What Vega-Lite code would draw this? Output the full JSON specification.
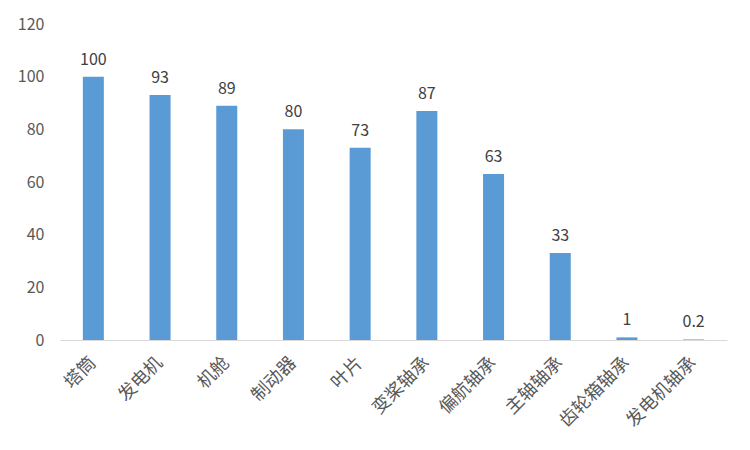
{
  "$schema": "https://vega.github.io/schema/vega-lite/v6.json",
  "width": 667,
  "height": 316,
  "autosize": {"type": "none"},
  "padding": {"left": 60, "top": 24, "right": 23, "bottom": 110},
  "background": "white",
  "config": {"view": {"stroke": null}, "font": "Noto Sans CJK SC"},
  "data": {"values": [
    {"name": "塔筒", "value": 100, "label": "100"},
    {"name": "发电机", "value": 93, "label": "93"},
    {"name": "机舱", "value": 89, "label": "89"},
    {"name": "制动器", "value": 80, "label": "80"},
    {"name": "叶片", "value": 73, "label": "73"},
    {"name": "变桨轴承", "value": 87, "label": "87"},
    {"name": "偏航轴承", "value": 63, "label": "63"},
    {"name": "主轴轴承", "value": 33, "label": "33"},
    {"name": "齿轮箱轴承", "value": 1, "label": "1"},
    {"name": "发电机轴承", "value": 0.2, "label": "0.2"}
  ]},
  "encoding": {
    "x": {
      "field": "name", "type": "nominal", "sort": null,
      "scale": {"paddingInner": 0.685, "paddingOuter": 0.3425},
      "axis": {
        "title": null, "labelAngle": -45, "labelAlign": "right", "labelBaseline": "middle",
        "labelFontSize": 18, "labelColor": "#595959", "ticks": false, "domainColor": "#d9d9d9",
        "domainWidth": 1, "labelPadding": 20, "labelFont": "Noto Sans CJK SC"
      }
    },
    "y": {
      "field": "value", "type": "quantitative",
      "scale": {"domain": [0, 120], "nice": false},
      "axis": {
        "title": null, "values": [0, 20, 40, 60, 80, 100, 120], "grid": false, "domain": false,
        "ticks": false, "labelFontSize": 16, "labelColor": "#595959", "labelPadding": 16,
        "labelFont": "Noto Sans CJK SC"
      }
    }
  },
  "layer": [
    {"mark": {"type": "bar", "color": "#5b9bd5"}},
    {"mark": {"type": "text", "baseline": "bottom", "dy": -9, "fontSize": 16, "color": "#404040", "font": "Noto Sans CJK SC"},
     "encoding": {"text": {"field": "label"}}}
  ]
}
